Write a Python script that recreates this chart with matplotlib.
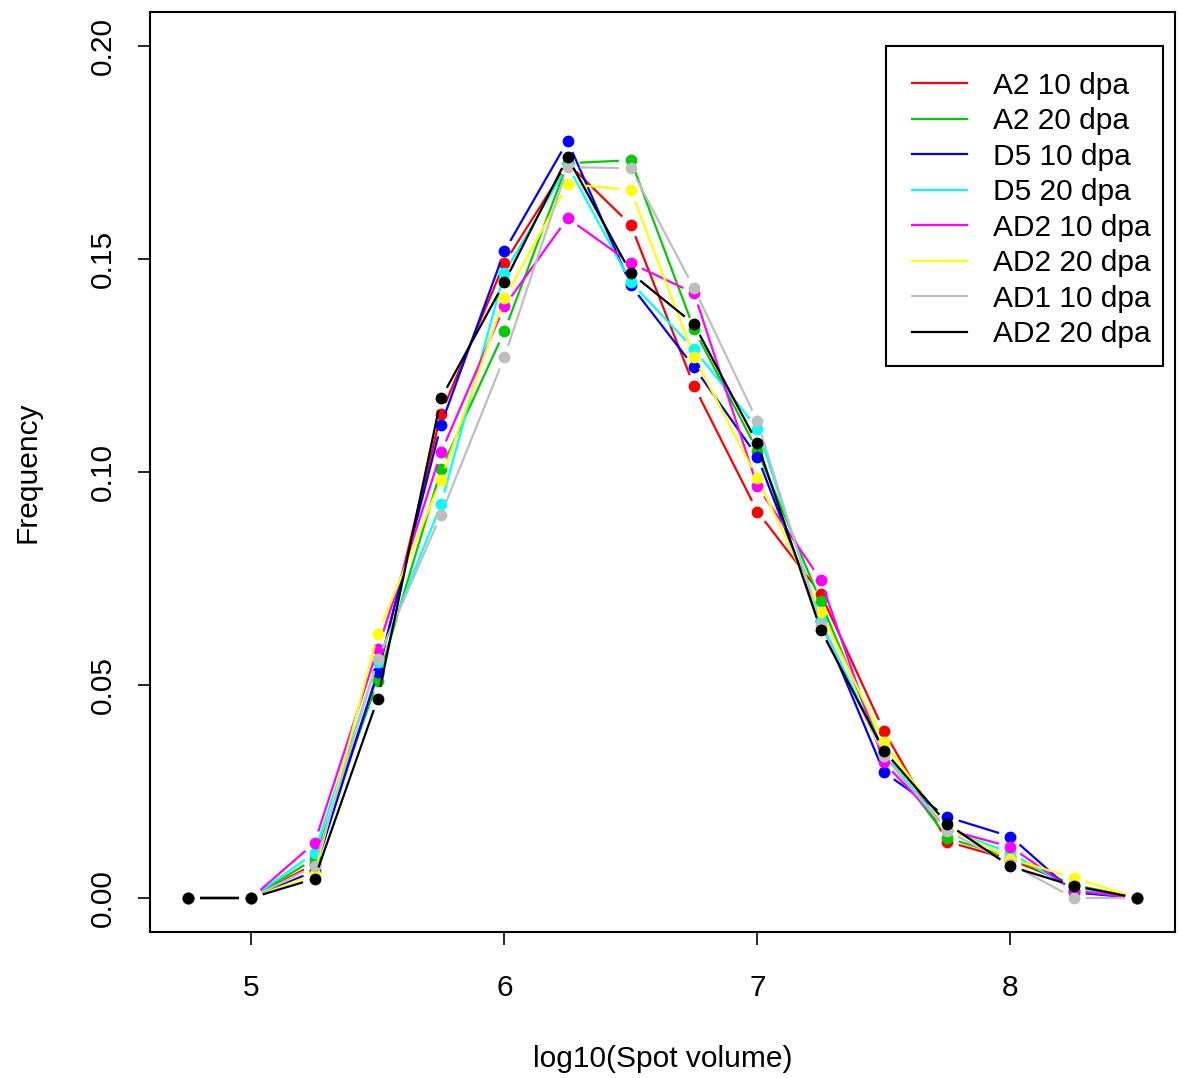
import numpy as np
import matplotlib
matplotlib.use("Agg")
import matplotlib.pyplot as plt
from matplotlib.patches import Rectangle

plt.rcParams['font.family'] = ['Liberation Sans', 'DejaVu Sans']

x = [4.75, 5.0, 5.25, 5.5, 5.75, 6.0, 6.25, 6.5, 6.75, 7.0, 7.25, 7.5, 7.75, 8.0, 8.25, 8.5]

a2_10 = [0, 0, 0.0080, 0.0525, 0.1137, 0.1490, 0.1725, 0.1580, 0.1201, 0.0907, 0.0714, 0.0392, 0.0132, 0.0090, 0.0030, 0]
a2_20 = [0, 0, 0.0092, 0.0510, 0.1006, 0.1330, 0.1725, 0.1732, 0.1335, 0.1050, 0.0696, 0.0340, 0.0141, 0.0095, 0.0030, 0]
d5_10 = [0, 0, 0.0063, 0.0530, 0.1111, 0.1518, 0.1777, 0.1438, 0.1246, 0.1036, 0.0650, 0.0295, 0.0190, 0.0144, 0.0013, 0]
d5_20 = [0, 0, 0.0106, 0.0555, 0.0924, 0.1467, 0.1720, 0.1445, 0.1288, 0.1102, 0.0650, 0.0340, 0.0160, 0.0106, 0.0020, 0]
ad2_10 = [0, 0, 0.0129, 0.0585, 0.1046, 0.1389, 0.1596, 0.1490, 0.1420, 0.0966, 0.0747, 0.0318, 0.0160, 0.0120, 0.0017, 0]
ad2_20 = [0, 0, 0.0056, 0.0620, 0.0982, 0.1408, 0.1676, 0.1662, 0.1270, 0.0985, 0.0672, 0.0365, 0.0165, 0.0092, 0.0047, 0]
ad1_10 = [0, 0, 0.0075, 0.0560, 0.0900, 0.1269, 0.1716, 0.1713, 0.1431, 0.1119, 0.0640, 0.0334, 0.0157, 0.0080, 0.0, 0]
ad2_20b = [0, 0, 0.0045, 0.0468, 0.1173, 0.1445, 0.1739, 0.1467, 0.1347, 0.1067, 0.0630, 0.0346, 0.0174, 0.0074, 0.0028, 0]

labels = ["A2 10 dpa", "A2 20 dpa", "D5 10 dpa", "D5 20 dpa",
          "AD2 10 dpa", "AD2 20 dpa", "AD1 10 dpa", "AD2 20 dpa"]
series = [a2_10, a2_20, d5_10, d5_20, ad2_10, ad2_20, ad1_10, ad2_20b]
colors = ["#FF0000", "#00CD00", "#0000FF", "#00FFFF", "#FF00FF", "#FFFF00", "#BEBEBE", "#000000"]

xticks = [5, 6, 7, 8]
yticks = [0.00, 0.05, 0.10, 0.15, 0.20]
ytick_labels = ["0.00", "0.05", "0.10", "0.15", "0.20"]

W, H, DPI = 1179, 1078, 100
AX_L, AX_R, AX_T, AX_B = 150, 1175, 12, 932
fig = plt.figure(figsize=(W / DPI, H / DPI), dpi=DPI)
ax = fig.add_axes([AX_L / W, 1 - AX_B / H, (AX_R - AX_L) / W, (AX_B - AX_T) / H])
ax.set_xlim(4.6, 8.65)
ax.set_ylim(-0.008, 0.208)

def axfrac(px, py):
    return (px - AX_L) / (AX_R - AX_L), (AX_B - py) / (AX_B - AX_T)

gap = 12.0  # pixels of gap around each point (R type="b")
fs = 21.5

def gapped_segments(xs, ys):
    pts = ax.transData.transform(np.column_stack([xs, ys]))
    inv = ax.transData.inverted()
    segs = []
    for i in range(len(pts) - 1):
        p0, p1 = pts[i], pts[i + 1]
        d = p1 - p0
        L = np.hypot(*d)
        if L <= 2 * gap:
            continue
        u = d / L
        a = inv.transform(p0 + u * gap)
        b = inv.transform(p1 - u * gap)
        segs.append((a, b))
    return segs

for k, (ys, c, lab) in enumerate(zip(series, colors, labels)):
    for a, b in gapped_segments(x, ys):
        ax.plot([a[0], b[0]], [a[1], b[1]], color=c, lw=1.6, zorder=2 + 2 * k,
                solid_capstyle='butt')
    ax.plot(x, ys, linestyle='none', marker='o', markersize=8.5, color=c,
            markeredgewidth=0, zorder=3 + 2 * k)
    ax.plot([], [], color=c, lw=1.6, label=lab)

ax.set_xticks(xticks)
ax.set_xticklabels([str(t) for t in xticks], fontsize=fs)
ax.set_yticks(yticks)
ax.set_yticklabels(ytick_labels, fontsize=fs, rotation=90, va='center')
ax.tick_params(axis='both', direction='out', length=9, width=1.2, color='black')
ax.tick_params(axis='x', pad=21)
ax.tick_params(axis='y', pad=15)
for s in ax.spines.values():
    s.set_linewidth(1.5)
    s.set_color('black')

ax.set_xlabel("log10(Spot volume)", fontsize=fs, labelpad=31)
ax.set_ylabel("Frequency", fontsize=fs, labelpad=34)

leg = ax.legend(loc='upper right', bbox_to_anchor=axfrac(1170, 52.5),
                borderaxespad=0, fontsize=fs, frameon=False,
                handlelength=1.84, handletextpad=0.87,
                labelspacing=0.25, borderpad=0.65)
leg.set_zorder(30)
x0, y0 = axfrac(886, 366)
x1, y1 = axfrac(1163, 46)
ax.add_patch(Rectangle((x0, y0), x1 - x0, y1 - y0, transform=ax.transAxes,
                       facecolor='white', edgecolor='black', lw=1.5, zorder=29))

fig.savefig("out.png", dpi=DPI)
